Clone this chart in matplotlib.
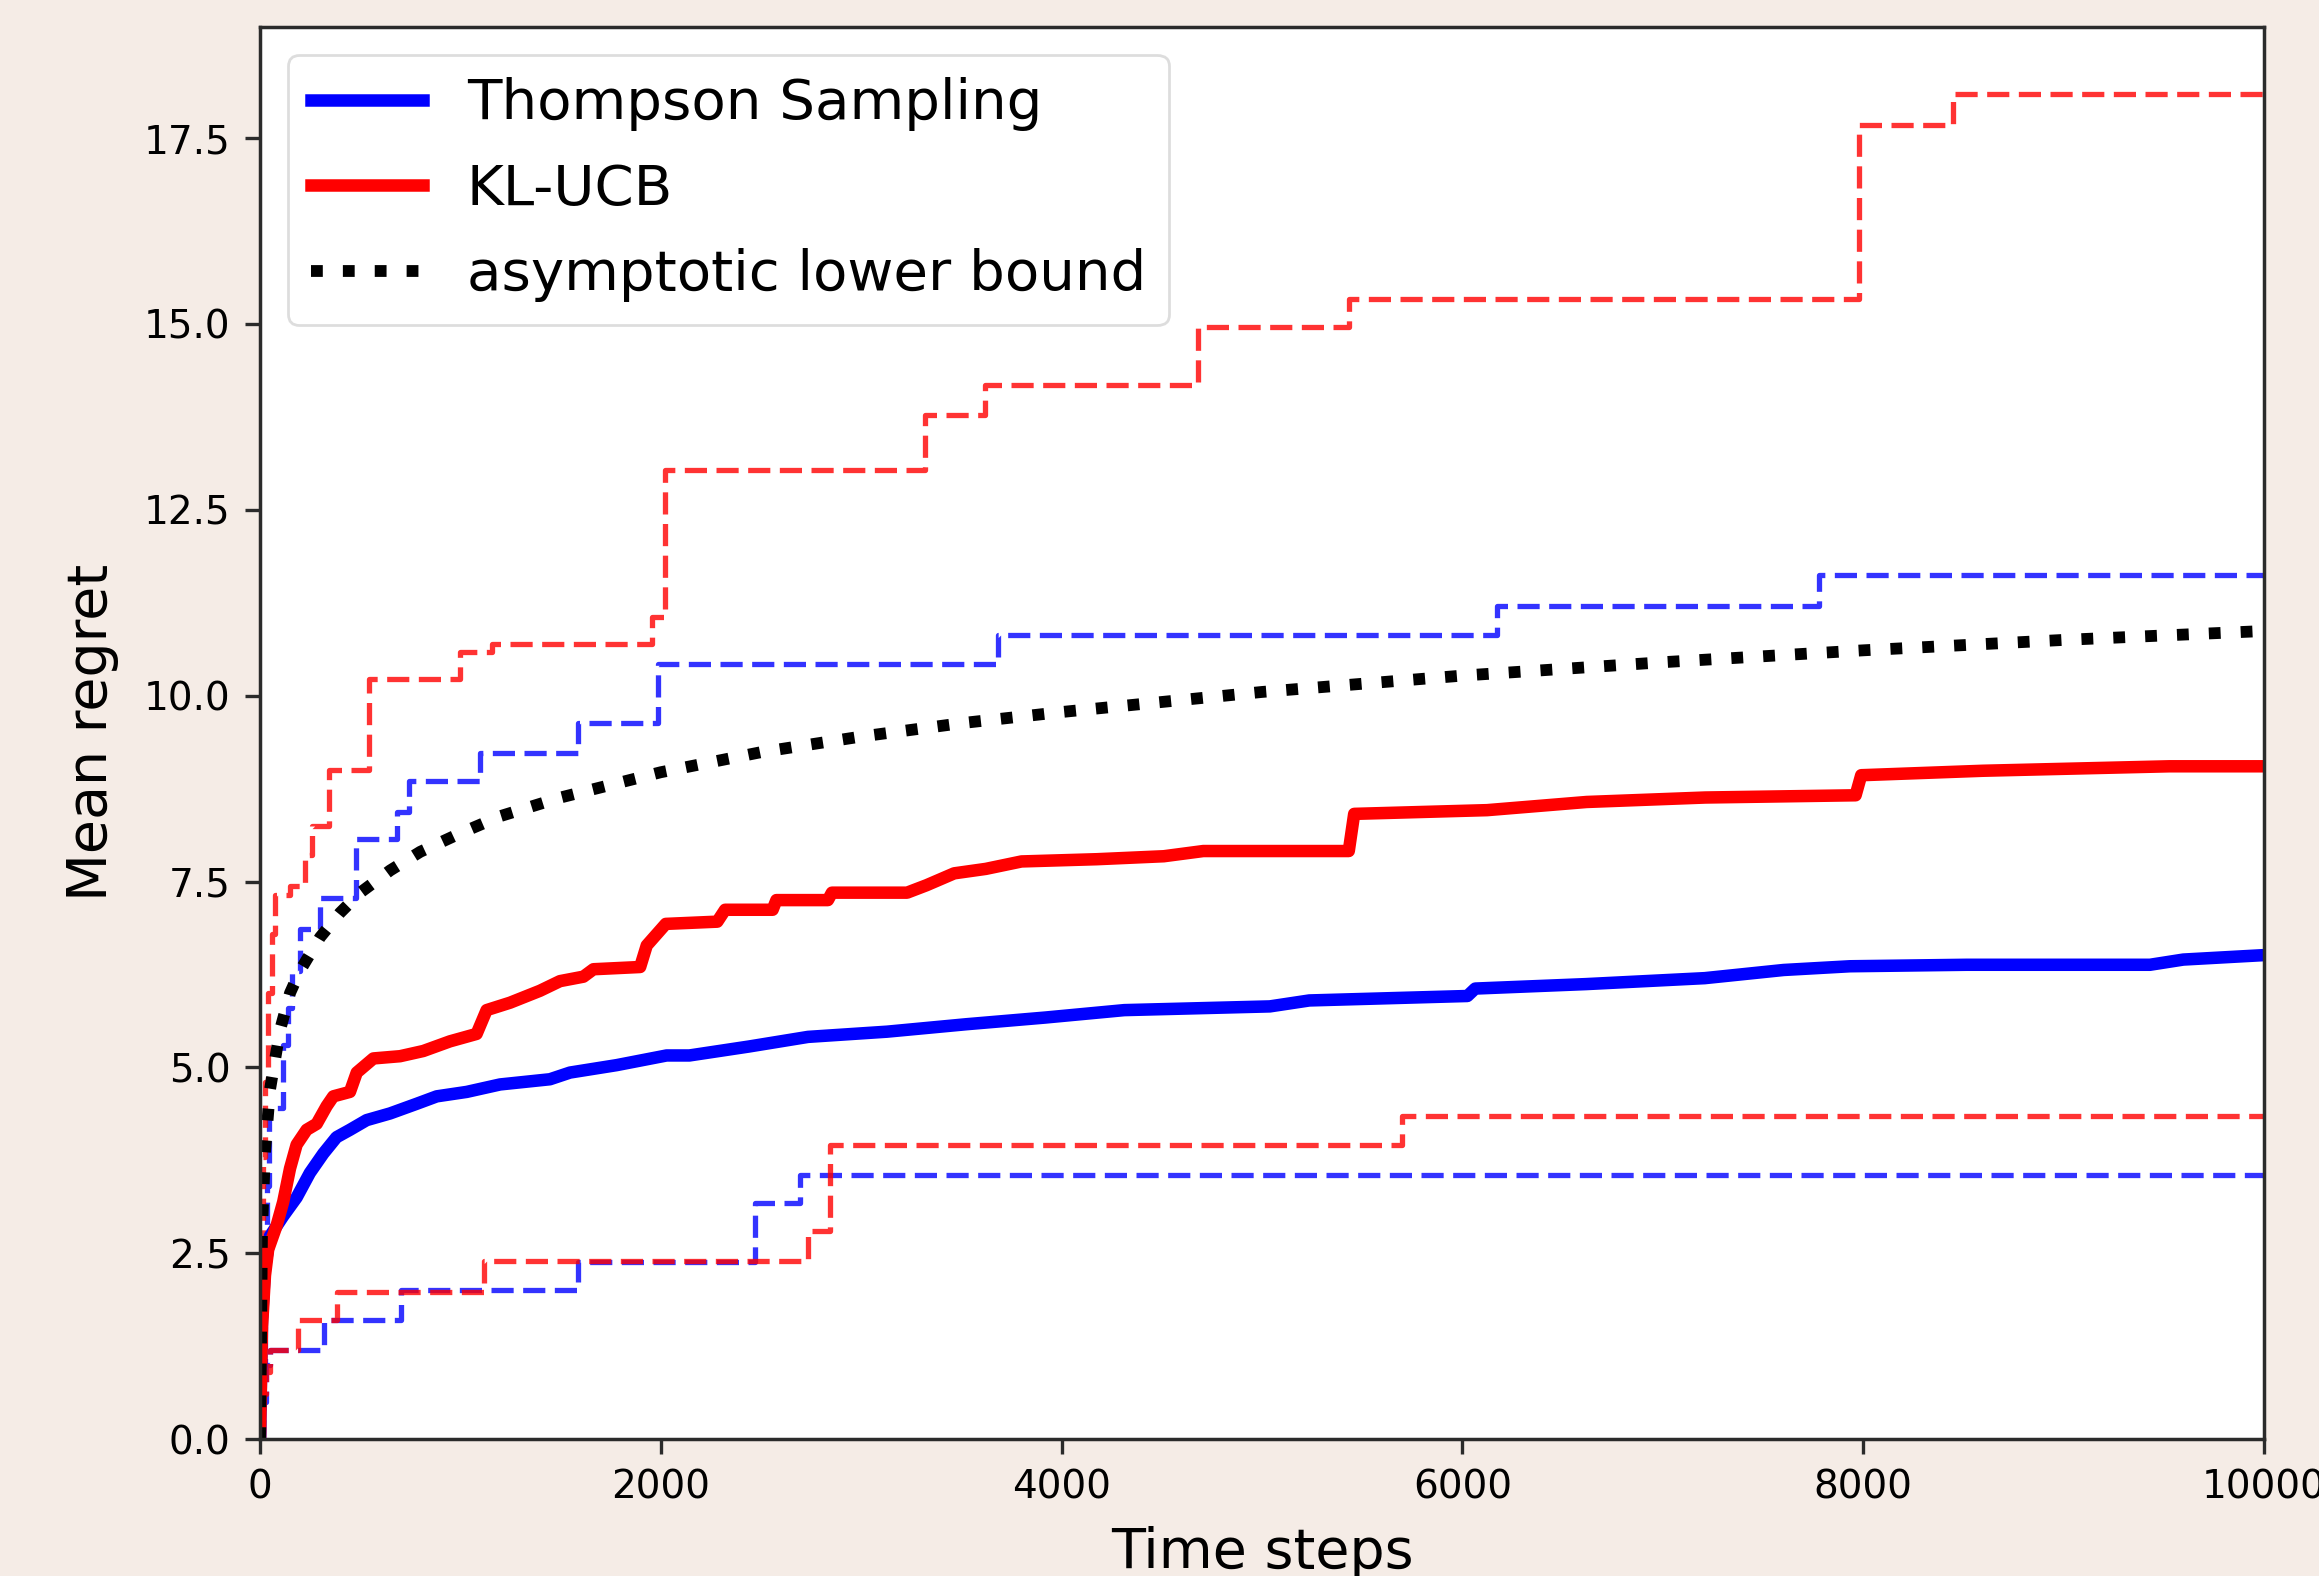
import matplotlib
matplotlib.use('Agg')
import matplotlib.pyplot as plt

# values (time step, mean regret)

# Thompson Sampling, mean over runs
ts_t = [0, 10, 25, 50, 116, 183, 249, 316, 382, 449, 532, 649, 782, 882, 1032,
        1198, 1447, 1547, 1780, 2029, 2143, 2439, 2735, 3129, 3524, 3918, 4313,
        5039, 5236, 6025, 6064, 6617, 7209, 7603, 7934, 8516, 9431, 9597, 10000]
ts_mean = [0, 1.6, 2.3, 2.73, 3.0, 3.25, 3.58, 3.84, 4.06, 4.16, 4.29, 4.38, 4.51,
           4.61, 4.67, 4.77, 4.84, 4.93, 5.03, 5.16, 5.16, 5.28, 5.41, 5.48, 5.58,
           5.67, 5.77, 5.82, 5.90, 5.96, 6.06, 6.12, 6.20, 6.31, 6.36, 6.38, 6.38,
           6.45, 6.51]

# KL-UCB, mean over runs
kl_t = [0, 10, 25, 41, 83, 116, 150, 183, 233, 283, 333, 366, 449, 483, 566, 699,
        815, 948, 1081, 1131, 1248, 1397, 1497, 1614, 1664, 1897, 1930, 2025, 2282,
        2321, 2558, 2577, 2834, 2854, 3229, 3326, 3464, 3622, 3800, 4175, 4510,
        4707, 5433, 5460, 6123, 6620, 7212, 7962, 7990, 8598, 9528, 10000]
kl_mean = [0, 1.5, 2.2, 2.55, 2.87, 3.19, 3.64, 3.96, 4.16, 4.24, 4.48, 4.61, 4.67,
           4.93, 5.12, 5.15, 5.22, 5.35, 5.45, 5.77, 5.87, 6.03, 6.16, 6.22, 6.32,
           6.35, 6.64, 6.93, 6.96, 7.12, 7.12, 7.25, 7.25, 7.35, 7.35, 7.45, 7.61,
           7.67, 7.77, 7.80, 7.84, 7.91, 7.91, 8.41, 8.46, 8.57, 8.63, 8.66, 8.93,
           8.99, 9.05, 9.05]

# asymptotic lower bound
lb_t = [1, 10, 25, 50, 100, 150, 200, 300, 400, 500, 650, 800, 1000, 1200, 1500,
        2000, 2500, 3000, 3500, 4000, 5000, 6000, 7000, 8000, 9000, 10000]
lb_val = [0.0, 2.8, 3.85, 4.7, 5.5, 6.0, 6.3, 6.75, 7.08, 7.35, 7.65, 7.9, 8.15,
          8.38, 8.63, 8.97, 9.24, 9.45, 9.63, 9.78, 10.05, 10.27, 10.45, 10.61,
          10.75, 10.87]

# quantile bands (step curves, value holds until next step)
ts_hi_t = [0, 15, 25, 35, 45, 116, 140, 161, 200, 299, 479, 682, 745, 1098, 1588,
           1985, 3682, 6173, 7780, 10000]
ts_hi = [0, 1.0, 2.2, 3.4, 4.45, 5.3, 5.8, 6.3, 6.86, 7.28, 8.07, 8.43, 8.85, 9.23,
         9.63, 10.42, 10.82, 11.21, 11.62, 11.62]

kl_hi_t = [0, 8, 16, 25, 41, 58, 75, 150, 225, 260, 345, 545, 1000, 1160, 1955,
           2020, 3320, 3620, 4680, 5435, 7980, 8450, 10000]
kl_hi = [0, 2.0, 3.8, 4.8, 6.0, 6.8, 7.32, 7.44, 7.86, 8.25, 9.0, 10.22, 10.59,
         10.7, 11.06, 13.03, 13.77, 14.18, 14.96, 15.34, 17.68, 18.1, 18.1]

ts_lo_t = [0, 15, 30, 50, 319, 702, 1588, 2469, 2696, 10000]
ts_lo = [0, 0.5, 1.0, 1.2, 1.6, 2.0, 2.38, 3.18, 3.55, 3.56]

kl_lo_t = [0, 15, 30, 50, 188, 386, 1120, 2735, 2844, 5700, 10000]
kl_lo = [0, 0.6, 0.9, 1.2, 1.6, 1.98, 2.4, 2.8, 3.95, 4.34, 4.34]

fig = plt.figure(figsize=(23.19, 15.76), dpi=100, facecolor='#f5ece6')
ax = fig.add_axes([0.1121, 0.0869, 0.8642, 0.8962])
ax.set_facecolor('white')

dash = (4.2, 1.8)
for t, v, c in [(ts_hi_t, ts_hi, 'blue'), (ts_lo_t, ts_lo, 'blue'),
                (kl_hi_t, kl_hi, 'red'), (kl_lo_t, kl_lo, 'red')]:
    ax.plot(t, v, color=c, lw=3.8, dashes=dash, alpha=0.8, drawstyle='steps-post')

ax.plot(ts_t, ts_mean, color='blue', lw=9, label='Thompson Sampling')
ax.plot(kl_t, kl_mean, color='red', lw=9, label='KL-UCB')
ax.plot(lb_t, lb_val, color='black', lw=8.5, dashes=(1, 1.7),
        label='asymptotic lower bound')

ax.set_xlim(0, 10000)
ax.set_ylim(0, 19.0)
ax.set_xticks([0, 2000, 4000, 6000, 8000, 10000])
ax.set_yticks([0, 2.5, 5, 7.5, 10, 12.5, 15, 17.5])
ax.set_yticklabels(['0.0', '2.5', '5.0', '7.5', '10.0', '12.5', '15.0', '17.5'])

for s in ax.spines.values():
    s.set_color('#2b2b2b')
    s.set_linewidth(2.5)
ax.tick_params(labelsize=28, length=11, width=2.4, pad=10, color='#2b2b2b')

ax.set_xlabel('Time steps', fontsize=40, labelpad=14)
ax.set_ylabel('Mean regret', fontsize=40, labelpad=18)

leg = ax.legend(loc='upper left', fontsize=40.5, handlelength=2.0,
                handletextpad=0.78, labelspacing=0.56, fancybox=True)
leg.get_frame().set_edgecolor('#d5d5d5')
leg.get_frame().set_linewidth(2)

fig.savefig('out.png', dpi=100, facecolor=fig.get_facecolor())
